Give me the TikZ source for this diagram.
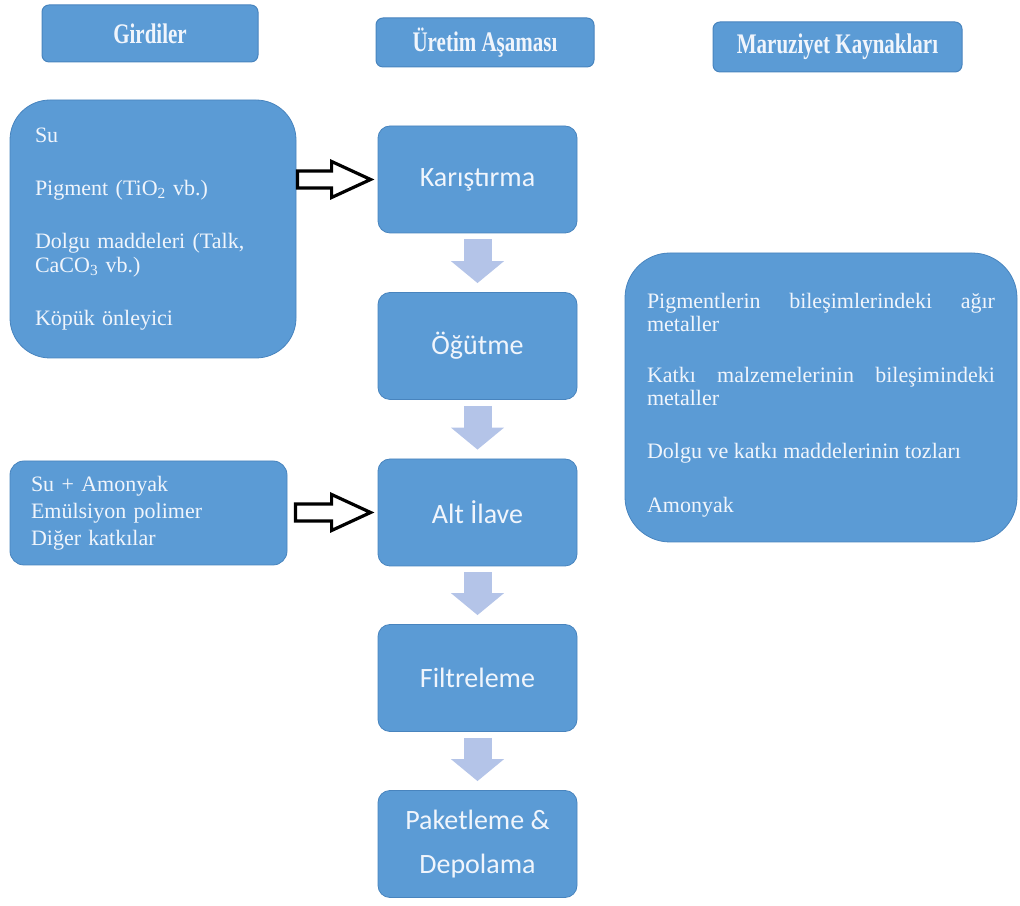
\documentclass[tikz,border=0pt]{standalone}
\usepackage{fontspec}
\setmainfont{Liberation Serif}
\newfontfamily\calibri{Carlito}
\usepackage{tikz}
\usetikzlibrary{calc,arrows.meta}
\definecolor{boxblue}{RGB}{91,155,213}
\definecolor{boxedge}{RGB}{72,132,190}
\definecolor{boxtext}{RGB}{240,245,252}
\definecolor{stepgray}{RGB}{180,196,232}
\hyphenpenalty=10000
\tolerance=10000
\hbadness=10000

\begin{document}
\begin{tikzpicture}[x=1pt,y=1pt,
     hd/.style={rectangle,rounded corners=7pt,fill=boxblue,draw=boxedge,line width=1pt,text=boxtext,font=\fontsize{21}{25}\selectfont\bfseries,inner sep=0pt},
     st/.style={rectangle,rounded corners=12pt,fill=boxblue,draw=boxedge,line width=0.8pt,text=boxtext,font=\calibri\fontsize{28}{44}\selectfont,align=center,minimum width=199pt,minimum height=107pt,inner sep=0pt},
     ib/.style={rectangle,fill=boxblue,draw=boxedge,line width=0.8pt,text=boxtext,font=\fontsize{22}{27}\selectfont,inner ysep=0pt},
     dn/.style={draw=stepgray,line width=28pt,-{Triangle[length=22pt,width=52pt]},shorten <=6pt,shorten >=9pt},
     fd/.style={draw=black,fill=white,line width=3.2pt,line join=miter}]
   \useasboundingbox (0,0) rectangle (1020,905);
   \node[hd,minimum width=216pt,minimum height=57pt] (hdrIn) at (150,871.5) {\scalebox{1}[1.35]{Girdiler}};
   \node[hd,minimum width=218pt,minimum height=49pt] (hdrProd) at (485,862.5) {\scalebox{1}[1.35]{Üretim Aşaması}};
   \node[hd,minimum width=249pt,minimum height=50pt] (hdrExp) at (837.5,858) {\scalebox{1}[1.35]{Maruziyet Kaynakları}};
   \node[ib,rounded corners=40pt,minimum height=258pt,text width=236pt,inner xsep=25pt,align=left,font=\fontsize{22}{24}\selectfont] (inA) at (153,676)
      {Su\\[29pt]Pigment (TiO\textsubscript{2} vb.)\\[29pt]Dolgu maddeleri (Talk,\\CaCO\textsubscript{3} vb.)\\[29pt]Köpük önleyici};
   \node[ib,rounded corners=14pt,minimum height=104pt,text width=235pt,inner xsep=21pt,align=left] (inB) at (148.5,392)
      {Su + Amonyak\\Emülsiyon polimer\\Diğer katkılar};
   \node[st] (karis) at (477.5,725.5) {Karıştırma};
   \node[st] (ogut) at (477.5,559) {Öğütme};
   \node[st] (alt) at (477.5,392.5) {Alt İlave};
   \node[st] (filt) at (477.5,227) {Filtreleme};
   \node[st] (paket) at (477.5,61) {Paketleme \&\\Depolama};
   \node[ib,rounded corners=45pt,minimum height=289pt,text width=348pt,inner xsep=22pt,align=justify,
         font=\fontsize{22}{23}\selectfont] (expo) at (821,507.5)
      {\mbox{}\\[7pt]Pigmentlerin bileşimlerindeki ağır metaller\\[28pt]Katkı malzemelerinin bileşimindeki metaller\\[30pt]Dolgu ve katkı maddelerinin tozları\\[31pt]Amonyak};
   \draw[dn] (karis) -- (ogut);
   \draw[dn] (ogut) -- (alt);
   \draw[dn] (alt) -- (filt);
   \draw[dn] (filt) -- (paket);
   \draw[fd] ($(inA.east |- karis.west)+(1,8.5)$) -- ($(karis.west)+(-46,8.5)$) -- ($(karis.west)+(-46,18)$)
      -- ($(karis.west)+(-7,0)$) -- ($(karis.west)+(-46,-18)$) -- ($(karis.west)+(-46,-8.5)$)
      -- ($(inA.east |- karis.west)+(1,-8.5)$) -- cycle;
   \draw[fd] ($(inB.east |- alt.west)+(8,8.5)$) -- ($(alt.west)+(-46,8.5)$) -- ($(alt.west)+(-46,18)$)
      -- ($(alt.west)+(-7,0)$) -- ($(alt.west)+(-46,-18)$) -- ($(alt.west)+(-46,-8.5)$)
      -- ($(inB.east |- alt.west)+(8,-8.5)$) -- cycle;
\end{tikzpicture}
\end{document}
